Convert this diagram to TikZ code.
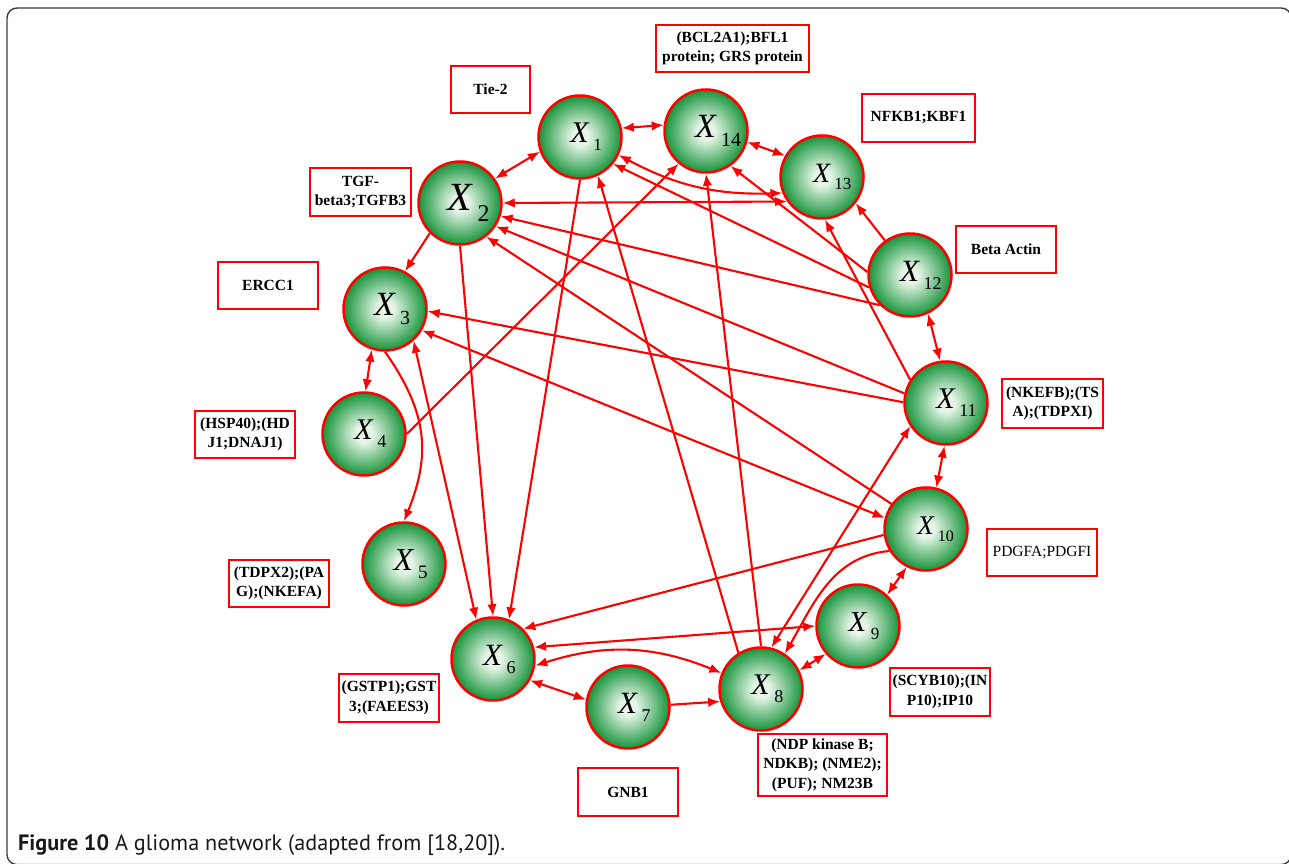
\documentclass[tikz,border=0pt]{standalone}
\usepackage{fontspec}
\setmainfont{Liberation Serif}
\newfontfamily\capfont{PT Sans}
\usetikzlibrary{arrows.meta}
\definecolor{gin}{RGB}{230,245,232}
\definecolor{gout}{RGB}{22,148,58}
\definecolor{nred}{RGB}{255,0,0}
\definecolor{frame}{RGB}{60,60,60}
\pgfdeclareradialshading{ball}{\pgfpoint{0bp}{0bp}}{color(0bp)=(gin); color(5bp)=(gin); color(25bp)=(gout); color(50bp)=(gout)}
\newcommand{\xl}[3]{\fontsize{#1}{#1}\selectfont\textit{X}\rlap{\kern0.12em\raisebox{-0.26em}{\fontsize{#2}{#2}\selectfont #3}}}
\begin{document}
\begin{tikzpicture}[x=1pt,y=1pt,
  gnode/.style={circle, draw=nred, line width=2.5pt, minimum size=83pt, inner sep=0pt, shading=ball},
  lbox/.style={draw=nred, line width=2pt, inner sep=0pt, align=center, font=\fontsize{15.5}{19.5}\selectfont\bfseries},
  edge/.style={draw=nred, line width=2.1pt, >={Latex[length=12pt,width=9.5pt]}}]
\useasboundingbox (0,0) rectangle (1289,863);
\begin{scope}
\clip (0,0) rectangle (1289,863);
\draw[frame, line width=1.4pt, rounded corners=10pt] (7,-1.6) rectangle (1291.2,855);
\end{scope}
% nodes
\node[gnode] (X1) at (580,726) {\xl{30}{17}{1}};
\node[gnode] (X14) at (706,732) {\xl{34}{20}{14}};
\node[gnode] (X13) at (822,686) {\xl{28}{17}{13}};
\node[gnode] (X2) at (460,660) {\xl{40}{24}{2}};
\node[gnode] (X3) at (385,554) {\xl{34}{20}{3}};
\node[gnode] (X4) at (364,429) {\xl{30}{18}{4}};
\node[gnode] (X5) at (404,299) {\xl{32}{19}{5}};
\node[gnode] (X6) at (493,204) {\xl{31}{18}{6}};
\node[gnode] (X7) at (628,156) {\xl{31}{18}{7}};
\node[gnode] (X8) at (761,174) {\xl{30}{18}{8}};
\node[gnode] (X9) at (858,237) {\xl{29}{17}{9}};
\node[gnode] (X10) at (926,334) {\xl{27}{16}{10}};
\node[gnode] (X11) at (946,460) {\xl{30}{18}{11}};
\node[gnode] (X12) at (910,588) {\xl{31}{18}{12}};
% label boxes
\node[lbox, minimum width=153pt, minimum height=47pt] (bcl) at (732.5,814.5) {(BCL2A1);BFL1\\protein; GRS protein};
\node[lbox, minimum width=79pt, minimum height=47pt] (tie) at (490.5,773.5) {Tie-2};
\node[lbox, minimum width=113pt, minimum height=48pt] (nfkb) at (918.5,745) {NFKB1;KBF1};
\node[lbox, minimum width=101pt, minimum height=48pt] (tgf) at (360.5,671) {TGF-\\beta3;TGFB3};
\node[lbox, minimum width=100pt, minimum height=47pt] (ercc) at (268,577.5) {ERCC1};
\node[lbox, minimum width=100pt, minimum height=47pt] (hsp) at (245,428.5) {(HSP40);(HD\\J1;DNAJ1)};
\node[lbox, minimum width=100pt, minimum height=47pt] (tdpx) at (279,279.5) {(TDPX2);(PA\\G);(NKEFA)};
\node[lbox, minimum width=100pt, minimum height=48pt] (gstp) at (389,165) {(GSTP1);GST\\3;(FAEES3)};
\node[lbox, minimum width=100pt, minimum height=48pt] (gnb) at (628,71) {GNB1};
\node[lbox, minimum width=129pt, minimum height=62pt] (ndp) at (822.5,98) {(NDP kinase B;\\NDKB); (NME2);\\(PUF); NM23B};
\node[lbox, minimum width=100pt, minimum height=48pt] (scyb) at (940,171) {(SCYB10);(IN\\P10);IP10};
\node[lbox, minimum width=110pt, minimum height=47pt, font=\fontsize{15.5}{19.5}\selectfont\mdseries] (pdgf) at (1042,310.5) {PDGFA;PDGFI};
\node[lbox, minimum width=101pt, minimum height=49pt] (nkefb) at (1052.5,459.5) {(NKEFB);(TS\\A);(TDPXI)};
\node[lbox, minimum width=100pt, minimum height=47pt] (beta) at (1006,613.5) {Beta Actin};
% edges
\draw[edge,<->] (X1.12) -- (X14.172);
\draw[edge,<->] (X14.-15) -- (X13.150);
\draw[edge,<->] (X1.200) -- (X2.35);
\draw[edge,->] (X2.225) -- (X3.62);
\draw[edge,<->] (X3.252) -- (X4.88);
\draw[edge,->] (X3.270) to[out=-55,in=68,looseness=1.1] (X5.90);
\draw[edge,->] (X4.0) -- (X14.230);
\draw[edge,->] (X1.270) -- (X6.68);
\draw[edge,->] (X2.270) -- (X6.90);
\draw[edge,<->] (X3.-48) -- (X6.113);
\draw[edge,->] (X8.122) -- (X1.-65);
\draw[edge,->] (X8.90) -- (X14.270);
\draw[edge,<->] (X1.-25) to[bend right=15] (X13.202);
\draw[edge,->] (X12.197) -- (X1.-39);
\draw[edge,<->] (X2.0) -- (X13.215);
\draw[edge,->] (X12.225) -- (X2.-18);
\draw[edge,->] (X11.167) -- (X2.-33);
\draw[edge,->] (X10.144) -- (X2.-52);
\draw[edge,->] (X11.179) -- (X3.-3);
\draw[edge,<->] (X3.-30) -- (X10.165);
\draw[edge,->] (X12.126) -- (X13.-38);
\draw[edge,<->] (X12.-65) -- (X11.98);
\draw[edge,<->] (X11.-92) -- (X10.76);
\draw[edge,<->] (X10.-117) -- (X9.47);
\draw[edge,<->] (X9.-139) -- (X8.26);
\draw[edge,->] (X7.3) -- (X8.197);
\draw[edge,<->] (X6.-30) -- (X7.170);
\draw[edge,<->] (X6.-9) to[bend left=20] (X8.158);
\draw[edge,<->] (X6.16) -- (X9.180);
\draw[edge,->] (X10.188) -- (X6.45);
\draw[edge,->] (X10.211) to[out=185,in=60] (X8.56);
\draw[edge,<->] (X11.-147) -- (X8.76);
\draw[edge,->] (X11.147) -- (X13.-86);
\draw[edge,->] (X12.176) -- (X14.-55);
% caption
\node[anchor=base west, inner sep=0pt, text=black!90, font=\capfont\fontsize{22.2}{22.2}\selectfont] (cap) at (18,13) {\textbf{Figure 10} A glioma network (adapted from [18,20]).};
\end{tikzpicture}
\end{document}
